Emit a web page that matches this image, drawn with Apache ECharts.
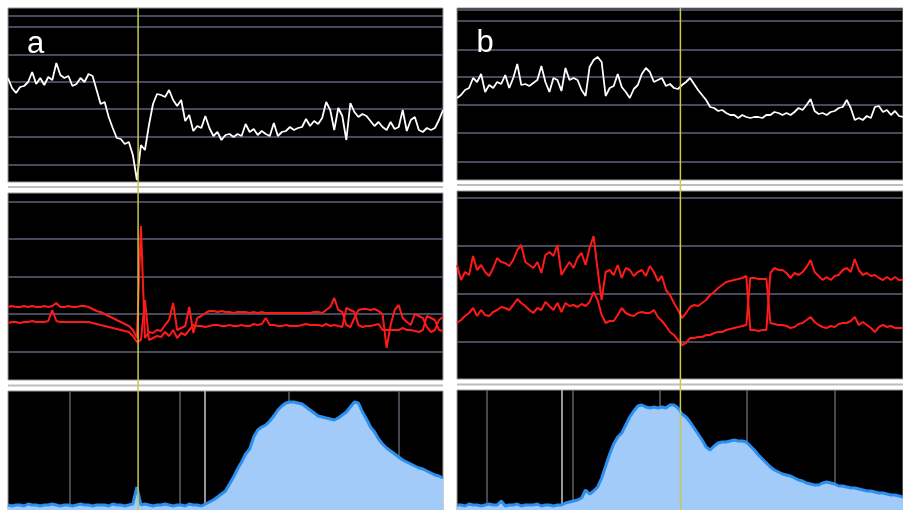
<!DOCTYPE html>
<html>
<head>
<meta charset="utf-8">
<script src="https://cdn.jsdelivr.net/npm/echarts@6/dist/echarts.min.js"></script>
<style>
  html, body { margin: 0; background: #fff; }
  #chart { width: 903px; height: 510px; }
</style>
</head>
<body>
<div id="chart"></div>
<script>
// panel a  (values = height above the bottom of each strip)
const aTop = [
  104,94,89,95,96,100,110,98,104,97,
  105,102,119,107,104,106,96,98,104,100,
  108,106,92,78,80,65,54,44,43,38,
  40,27,2,37,32,57,78,88,87,85,
  92,82,76,82,61,67,51,56,54,66,
  54,46,50,42,47,48,45,48,46,58,
  50,53,47,51,48,46,59,46,50,51,
  55,52,54,55,63,56,61,58,64,80,
  72,52,74,66,42,79,70,65,68,66,
  61,56,60,55,52,60,53,55,72,51,
  62,65,52,50,54,52,54,62,72];
const aMidUpper = [
  73,74,73,73,74,73,74,73,73,74,
  73,74,77,73,73,74,73,73,74,74,
  73,71,69,68,66,64,62,60,58,56,
  54,50,42,154,42,48,47,50,49,55,
  60,77,50,52,54,73,47,62,64,67,
  69,69,68,69,68,68,67,68,68,68,
  67,68,67,68,67,67,67,67,67,67,
  67,67,67,67,67,67,68,68,67,70,
  73,82,70,68,55,53,62,70,71,71,
  70,71,69,66,32,55,70,75,62,58,
  55,66,64,62,53,48,50,60,63];
const aMidLower = [
  57,58,58,57,58,58,59,58,58,58,
  59,70,59,58,58,58,58,58,58,58,
  58,57,56,55,54,53,52,51,50,49,
  48,44,38,40,80,40,42,44,43,48,
  44,50,42,47,45,50,55,54,54,53,
  54,55,55,54,54,55,54,54,55,54,
  54,56,55,56,62,55,55,54,54,55,
  54,54,54,55,56,55,55,55,54,56,
  54,55,54,53,72,70,68,55,53,54,
  54,55,56,50,50,50,50,50,52,50,
  50,49,48,50,64,62,60,50,49];
const aBottom = [
  5,4,5,5,4,6,5,5,4,5,5,6,5,4,5,5,4,5,6,5,5,4,5,5,5,4,6,5,5,4,5,6,
  23,
  5,6,5,4,5,5,6,5,4,5,5,4,6,5,5,4,6,
  8,10,13,16,19,26,33,41,48,56,61,73,80,83,85,89,94,100,104,107,
  108,108,107,106,103,100,97,94,93,92,91,90,92,95,98,103,108,107,98,91,
  83,78,71,66,62,59,56,53,50,48,46,44,42,41,39,37,35,34,32];

// panel b
const bTop = [
  82,85,90,92,102,98,106,88,95,92,
  98,96,105,92,102,116,95,96,94,97,
  100,114,98,88,102,100,89,112,100,102,
  100,90,84,113,120,123,118,84,92,94,
  106,93,88,82,91,95,106,112,108,98,
  100,102,94,96,92,91,95,98,102,96,
  90,85,80,73,72,69,70,67,65,65,
  62,65,63,62,63,63,62,65,65,68,
  67,65,67,65,68,72,70,75,81,69,
  66,67,65,68,69,72,73,80,72,60,
  62,60,64,62,73,74,68,70,65,69,
  64,63];
const bMidUpper = [
  114,99,107,104,123,109,114,107,103,111,
  121,117,116,113,119,129,134,117,114,111,
  117,106,124,127,123,134,104,111,117,111,
  121,126,114,131,143,109,79,107,109,104,
  114,101,111,109,103,107,109,103,113,107,
  98,103,89,84,76,69,61,66,72,74,
  73,76,79,84,87,91,94,97,98,99,
  100,101,103,49,49,48,49,49,106,111,
  109,109,106,101,106,104,107,112,119,107,
  103,99,102,99,103,104,109,111,107,120,
  109,104,106,103,104,101,99,102,99,102,
  99,99];
const bMidLower = [
  56,59,63,66,71,63,69,64,63,67,
  69,72,71,69,74,80,76,73,69,66,
  71,69,77,73,69,76,67,76,73,74,
  72,75,73,77,87,79,64,56,58,58,
  64,71,66,64,63,66,67,66,66,69,
  62,58,53,47,44,39,34,36,41,41,
  42,42,44,44,46,47,47,49,50,51,
  52,53,54,101,101,100,100,100,56,55,
  54,54,53,51,52,55,56,59,62,57,
  54,52,51,53,52,55,56,56,58,62,
  54,57,54,51,47,52,54,52,53,51,
  51,51];
const bBottom = [
  5,5,4,6,5,5,4,5,6,5,5,9,4,5,5,6,4,5,5,5,6,4,5,5,4,5,
  5,7,8,9,10,12,20,16,19,23,32,44,56,66,73,77,85,93,99,104,
  105,103,102,103,102,103,102,105,105,102,96,93,88,82,76,70,63,60,64,67,
  68,68,69,70,69,69,68,64,60,55,51,47,43,40,38,36,35,34,32,30,
  29,27,26,25,25,27,28,27,26,24,24,23,22,22,21,20,19,19,18,17,
  17,16,15,15,14,13];

// cursor and event marks (sample index)
const markerA = 32.3, markerB = 55.6;
const eventsA = [15.4, 42.7, 69.7, 97.0], eventsAMain = [48.9];
const eventsB = [7.5, 28.9, 50.5, 72.1, 94.0], eventsBMain = [26.1];

// horizontal reference levels of each strip
const aTopLevels = [17, 45, 73, 100, 127, 155, 166];
const bTopLevels = [18, 47, 75, 103, 130, 159, 170];
const aMidLevels = [28, 66, 103, 141, 178];
const bMidLevels = [37, 85, 133, 181];

const grids = [
  { left: 8, top: 8, width: 435, height: 174 },
  { left: 8, top: 193, width: 435, height: 187 },
  { left: 8, top: 391, width: 435, height: 119 },
  { left: 457, top: 8, width: 446, height: 172 },
  { left: 457, top: 191, width: 446, height: 188 },
  { left: 457, top: 390, width: 446, height: 120 }
];
const nA = aTop.length, nB = bTop.length;

const pairs = arr => arr.map((v, i) => [i, v]);

function levels(idx, vals) {
  return {
    type: 'line', xAxisIndex: idx, yAxisIndex: idx, data: [], z: 1,
    markLine: {
      silent: true, symbol: 'none', animation: false, z: 1, label: { show: false },
      lineStyle: { color: '#62627e', width: 1.5, type: 'solid' },
      data: vals.map(v => ({ yAxis: v }))
    }
  };
}
function events(idx, vals, main) {
  return {
    type: 'line', xAxisIndex: idx, yAxisIndex: idx, data: [], z: 1,
    markLine: {
      silent: true, symbol: 'none', animation: false, z: 1, label: { show: false },
      data: vals.map(v => ({ xAxis: v, lineStyle: { color: '#5e5e6c', width: 1.5, type: 'solid' } }))
        .concat(main.map(v => ({ xAxis: v, lineStyle: { color: '#c8c8c8', width: 1.5, type: 'solid' } })))
    }
  };
}
function trace(idx, arr, color, w) {
  return {
    type: 'line', xAxisIndex: idx, yAxisIndex: idx, data: pairs(arr), z: 3,
    showSymbol: false, symbol: 'none', lineStyle: { color: color, width: w }
  };
}
function area(idx, arr) {
  return {
    type: 'line', xAxisIndex: idx, yAxisIndex: idx, data: pairs(arr), z: 3,
    showSymbol: false, symbol: 'none',
    lineStyle: { color: '#2b8ff0', width: 3 },
    areaStyle: { color: '#a2cbfa', opacity: 1 }
  };
}

var myChart = echarts.init(document.getElementById('chart'));
var option = {
  animation: false,
  backgroundColor: '#fff',
  grid: grids.map(g => Object.assign({ show: true, backgroundColor: '#000', borderColor: '#9a9a9a', borderWidth: 1 }, g)),
  xAxis: grids.map((g, i) => ({
    type: 'value', gridIndex: i, min: 0, max: (i < 3 ? nA : nB) - 1, show: false
  })),
  yAxis: grids.map((g, i) => ({
    type: 'value', gridIndex: i, min: 0, max: g.height, show: false, splitLine: { show: false }
  })),
  series: [
    levels(0, aTopLevels), trace(0, aTop, '#ffffff', 1.8),
    levels(1, aMidLevels), trace(1, aMidUpper, '#ff1a1a', 2), trace(1, aMidLower, '#ff1a1a', 2),
    events(2, eventsA, eventsAMain), area(2, aBottom),
    levels(3, bTopLevels), trace(3, bTop, '#ffffff', 1.8),
    levels(4, bMidLevels), trace(4, bMidUpper, '#ff1a1a', 2), trace(4, bMidLower, '#ff1a1a', 2),
    events(5, eventsB, eventsBMain), area(5, bBottom)
  ]
};
option && myChart.setOption(option);

// separators, cursor lines and panel letters
const xa = myChart.convertToPixel({ xAxisIndex: 0 }, markerA);
const xb = myChart.convertToPixel({ xAxisIndex: 3 }, markerB);
const sep = (id, x1, x2, y) => ({
  type: 'line', id: id, z: 50, silent: true,
  shape: { x1: x1, y1: y, x2: x2, y2: y },
  style: { stroke: '#bdbdbd', lineWidth: 2 }
});
const cursor = (id, x) => ({
  type: 'line', id: id, z: 100, silent: true,
  shape: { x1: x, y1: 8, x2: x, y2: 510 },
  style: { stroke: '#c8c84a', lineWidth: 1.5 }
});
const letter = (id, t, x, y) => ({
  type: 'text', id: id, z: 100, silent: true, x: x, y: y,
  style: { text: t, fill: '#fff', font: '31px "Liberation Sans", Arial, sans-serif', textAlign: 'center', textVerticalAlign: 'middle' }
});
myChart.setOption({
  graphic: { elements: [
    sep('s1', 8, 443, 187), sep('s2', 8, 443, 385.5),
    sep('s3', 457, 903, 185), sep('s4', 457, 903, 384.5),
    cursor('ca', xa), cursor('cb', xb),
    letter('la', 'a', 35.5, 44), letter('lb', 'b', 485, 43)
  ] }
});
</script>
</body>
</html>
